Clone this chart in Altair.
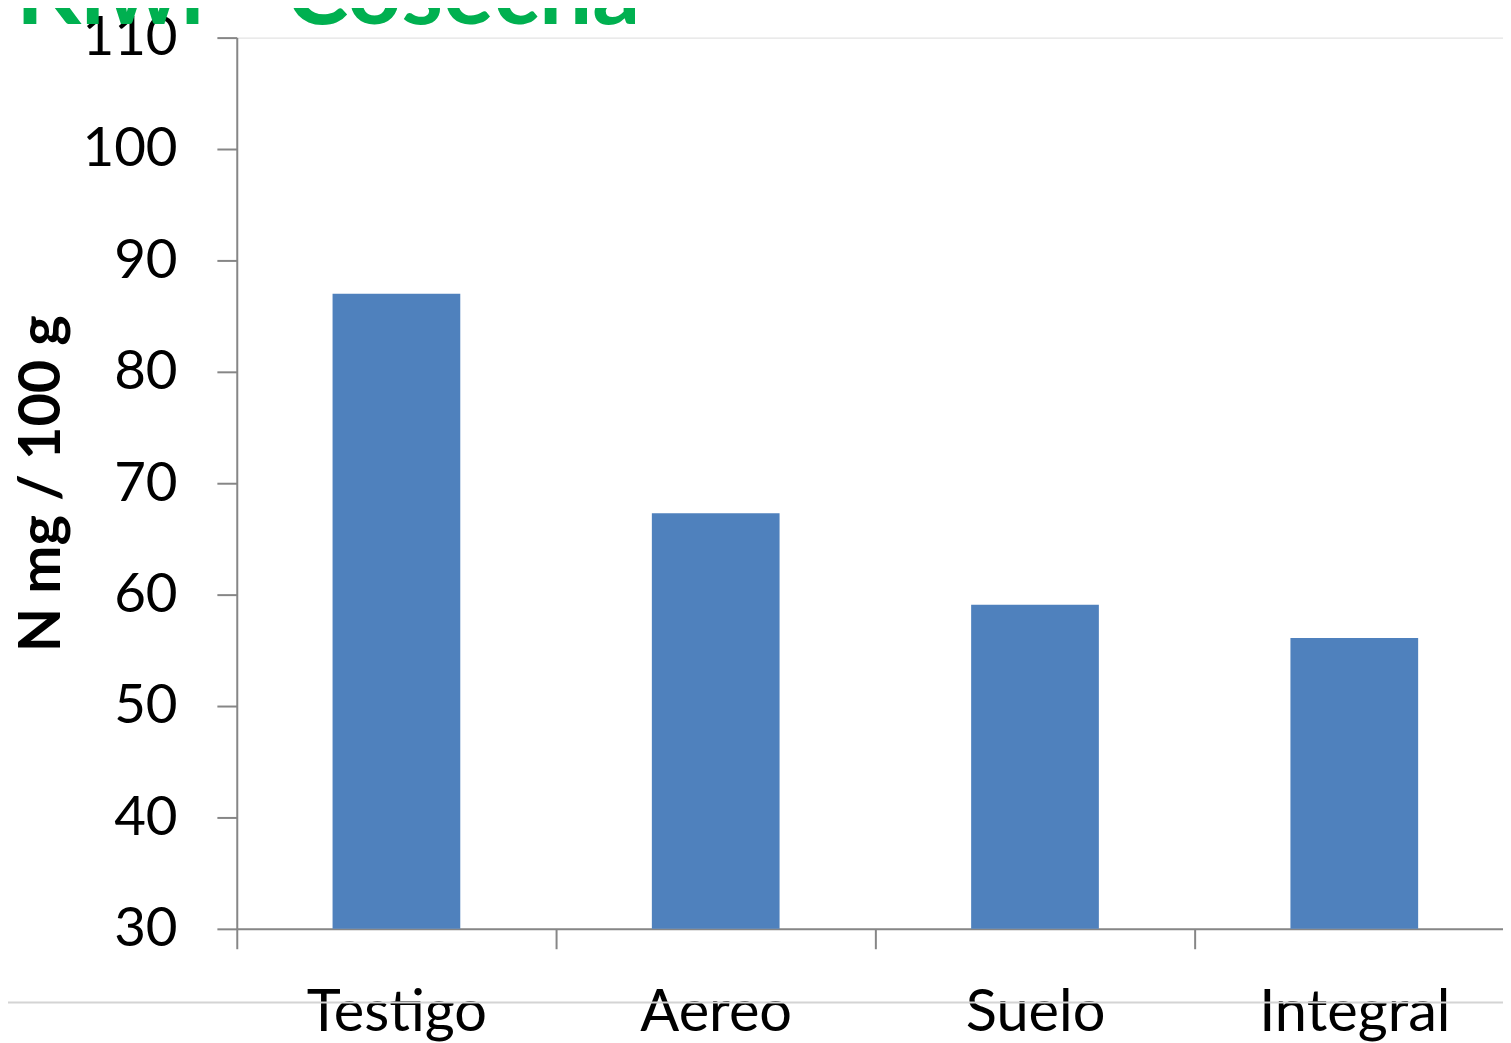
import altair as alt
import pandas as pd

categories = ["Testigo", "Aereo", "Suelo", "Integral"]
values = [87.0, 67.3, 59.1, 56.1]
title_text = ["Kiwi - Cosecha"]
y_ticks = [30, 40, 50, 60, 70, 80, 90, 100, 110]

df = pd.DataFrame({"cat": categories, "val": values})

FONT = "Lato"
AXIS_GREY = "#868686"

bars = alt.Chart(df).mark_bar(
    color="#4F81BD", width=alt.RelativeBandSize(0.4)
).encode(
    x=alt.X(
        "cat:N",
        sort=categories,
        scale=alt.Scale(paddingInner=0, paddingOuter=0),
        axis=alt.Axis(
            title=None,
            labelAngle=0,
            labelFont=FONT,
            labelFontSize=58,
            labelColor="#000000",
            labelBaseline="alphabetic",
            labelPadding=82,
            labelLimit=0,
            tickBand="extent",
            tickSize=20,
            tickColor=AXIS_GREY,
            tickWidth=2,
            domainColor=AXIS_GREY,
            domainWidth=2,
            grid=False,
        ),
    ),
    y=alt.Y(
        "val:Q",
        scale=alt.Scale(domain=[30, 110], zero=False, nice=False),
        axis=alt.Axis(
            values=y_ticks,
            title="N mg / 100 g",
            titleFont=FONT,
            titleFontSize=58,
            titleFontWeight="bold",
            titleColor="#000000",
            titleAngle=270,
            titleAlign="center",
            titleBaseline="alphabetic",
            titleX=-178,
            titleY=448,
            labelFont=FONT,
            labelFontSize=55,
            labelColor="#000000",
            labelPadding=40,
            tickSize=20,
            tickColor=AXIS_GREY,
            tickWidth=2,
            domainColor=AXIS_GREY,
            domainWidth=2,
            grid=False,
        ),
    ),
    y2=alt.datum(30),
)

title = alt.Chart(pd.DataFrame({"t": title_text})).mark_text(
    font=FONT,
    fontSize=95,
    fontWeight="bold",
    color="#00B050",
    align="left",
    baseline="alphabetic",
).encode(
    text="t:N",
    x=alt.value(-222),
    y=alt.value(-14),
)

sep = alt.Chart(pd.DataFrame({"a": [1]})).mark_rule(
    color="#d4d4d4", strokeWidth=2
).encode(
    x=alt.value(-230),
    x2=alt.value(1300),
    y=alt.value(970),
)

chart = alt.layer(sep, bars, title).properties(
    width=1284,
    height=896,
    padding={"left": 230, "top": 27, "right": -11, "bottom": 112},
    autosize=alt.AutoSizeParams(type="none"),
).configure_view(stroke=None).configure(background="white")

chart.save("out.html", embed_options={"renderer": "svg", "actions": False})
